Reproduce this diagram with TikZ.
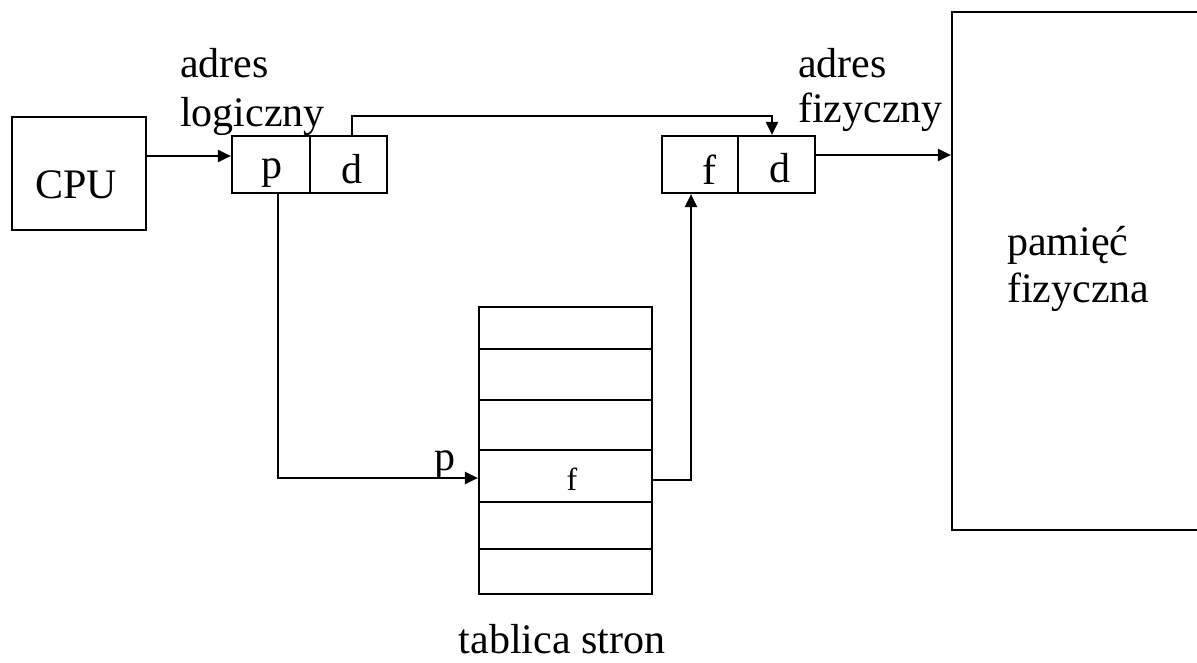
\documentclass[tikz,border=0pt]{standalone}
\usepackage{fontspec}
\setmainfont{Liberation Serif}
\usetikzlibrary{arrows.meta,calc}

\tikzset{
  box/.style={draw, line width=2.2pt, inner sep=0pt},
  arrowlink/.style={line width=2.2pt, -{Triangle[length=13pt,width=12pt]}},
  txt/.style={inner sep=0pt, anchor=base west, text depth=0pt, font=\fontsize{42}{48}\selectfont},
  smalltxt/.style={inner sep=0pt, anchor=base, font=\fontsize{32}{38}\selectfont},
}

\begin{document}
\begin{tikzpicture}[x=1pt, y=-1pt]
\useasboundingbox (0,0) rectangle (1197,662);

% processor
\node[box, minimum width=134pt, minimum height=113pt] (cpu) at (79,173.5) {};
\node[txt] (cputxt) at (35,198) {CPU};

% logical address: page number and offset
\node[box, minimum width=78pt, minimum height=57pt] (lp) at (271,164.5) {};
\node[box, minimum width=77pt, minimum height=57pt] (ld) at (348.5,164.5) {};
\node[txt, anchor=base] (lptxt) at (272,178) {p};
\node[txt, anchor=base] (ldtxt) at (352,183) {d};
\node[txt] (laddr1) at (180,77) {adres};
\node[txt] (laddr2) at (180,126) {logiczny};

% physical address: frame number and offset
\node[box, minimum width=76pt, minimum height=57pt] (fp) at (700,164.5) {};
\node[box, minimum width=77pt, minimum height=57pt] (fd) at (776.5,164.5) {};
\node[txt, anchor=base] (fptxt) at (709,184) {f};
\node[txt, anchor=base] (fdtxt) at (780,182) {d};
\node[txt] (paddr1) at (798,77) {adres};
\node[txt] (paddr2) at (798,122) {fizyczny};

% physical memory
\node[box, minimum width=262pt, minimum height=518pt] (mem) at (1083,271) {};
\node[txt] (memtxt1) at (1007,255) {pamięć};
\node[txt] (memtxt2) at (1007,302) {fizyczna};

% page table rows
\node[box, minimum width=173pt, minimum height=42pt] (r1) at (565.5,328) {};
\node[box, minimum width=173pt, minimum height=51pt] (r2) at (565.5,374.5) {};
\node[box, minimum width=173pt, minimum height=50pt] (r3) at (565.5,425) {};
\node[box, minimum width=173pt, minimum height=52pt] (r4) at (565.5,476) {};
\node[box, minimum width=173pt, minimum height=47pt] (r5) at (565.5,525.5) {};
\node[box, minimum width=173pt, minimum height=45pt] (r6) at (565.5,571.5) {};
\node[smalltxt] (ftxt) at (572,490) {f};
\node[txt, anchor=base] (tabtxt) at (562,653) {tablica stron};
\node[txt, anchor=base] (ptxt) at (445,470) {p};

% connectors
\draw[arrowlink] (cpu.east |- 0,156) -- (lp.west |- 0,156);
\draw[arrowlink] ($(ld.north)+(3.5,0)$) -- ++(0,-19) -| ($(fd.north)+(-4.5,0)$);
\draw[arrowlink] ($(lp.south)+(7,0)$) |- (r4.west |- 0,478);
\coordinate (turn) at (691,480);
\draw[arrowlink] (r4.east |- turn) -- (turn) -- (turn |- fp.south);
\draw[arrowlink] (fd.east |- 0,155) -- (mem.west |- 0,155);
\end{tikzpicture}
\end{document}
